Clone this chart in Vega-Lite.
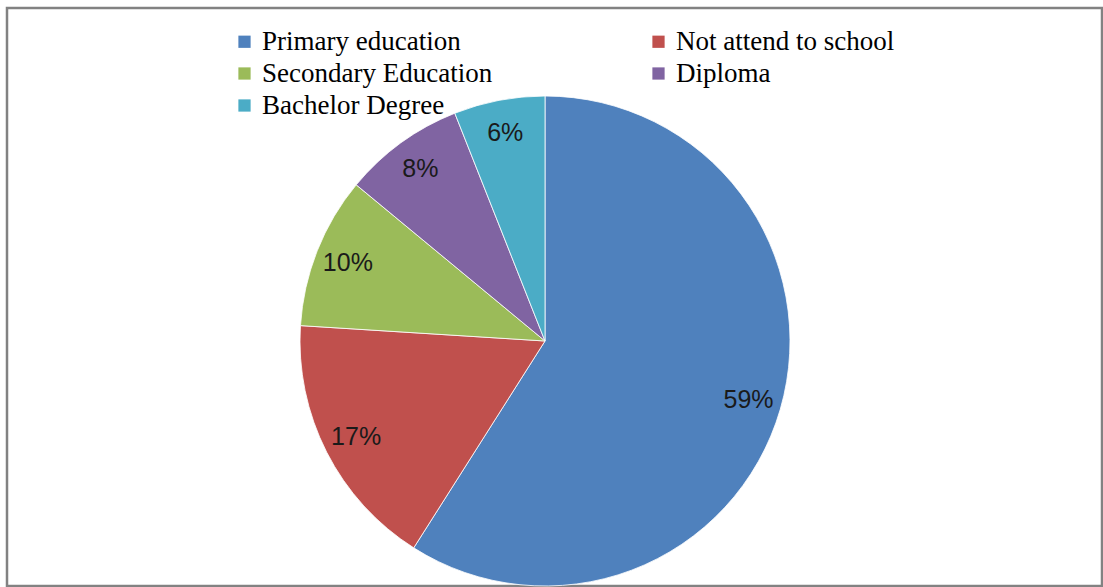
{
  "$schema": "https://vega.github.io/schema/vega-lite/v6.json",
  "width": 1095,
  "height": 578,
  "autosize": {"type": "none"},
  "padding": {"left": 7, "top": 8, "right": 1, "bottom": 1},
  "background": "white",
  "view": {"stroke": "#828282", "strokeWidth": 2.5},
  "config": {
    "view": {"stroke": "#828282", "strokeWidth": 2.5},
    "legend": {
      "orient": "none",
      "direction": "horizontal",
      "legendX": 224,
      "legendY": 20,
      "columns": 2,
      "columnPadding": 152,
      "rowPadding": 4,
      "padding": 0,
      "symbolType": "square",
      "symbolSize": 150,
      "symbolStrokeWidth": 0,
      "labelFont": "Liberation Serif",
      "labelFontSize": 27,
      "labelColor": "#000000",
      "labelOffset": 4,
      "labelLimit": 0
    }
  },
  "data": {
    "values": [
      {"category": "Primary education", "value": 59, "label": "59%", "order": 1},
      {"category": "Not attend to school", "value": 17, "label": "17%", "order": 2},
      {"category": "Secondary Education", "value": 10, "label": "10%", "order": 3},
      {"category": "Diploma", "value": 8, "label": "8%", "order": 4},
      {"category": "Bachelor Degree", "value": 6, "label": "6%", "order": 5}
    ]
  },
  "encoding": {
    "theta": {"field": "value", "type": "quantitative", "stack": true},
    "order": {"field": "order", "type": "quantitative"}
  },
  "layer": [
    {
      "mark": {"type": "arc", "outerRadius": 245, "xOffset": -9.5, "yOffset": 44, "stroke": "#ffffff", "strokeWidth": 0.8},
      "encoding": {
        "color": {
          "field": "category",
          "type": "nominal",
          "title": null,
          "sort": ["Primary education", "Not attend to school", "Secondary Education", "Diploma", "Bachelor Degree"],
          "scale": {
            "domain": ["Primary education", "Not attend to school", "Secondary Education", "Diploma", "Bachelor Degree"],
            "range": ["#4f81bd", "#c0504d", "#9bbb59", "#8064a2", "#4bacc6"]
          }
        }
      }
    },
    {
      "mark": {"type": "text", "radius": 212, "xOffset": -9.5, "yOffset": 44, "font": "Liberation Sans", "fontSize": 25, "fill": "#1a1a1a"},
      "encoding": {
        "text": {"field": "label", "type": "nominal"}
      }
    }
  ]
}
